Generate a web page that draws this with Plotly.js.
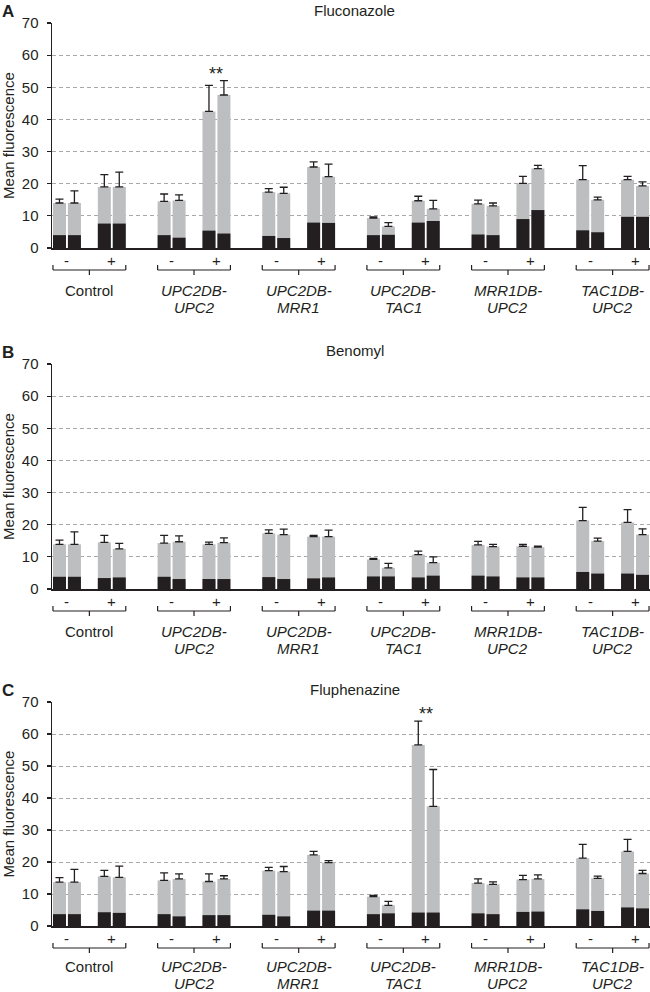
<!DOCTYPE html>
<html>
<head>
<meta charset="utf-8">
<script src="https://cdn.plot.ly/plotly-3.0.1.min.js"></script>
<style>html,body{margin:0;padding:0;background:#fff;}#chart{width:650px;height:992px;}</style>
</head>
<body>
<div id="chart"></div>
<script>
// ---------- DATA ----------
const groupLine1 = ['Control', '<i>UPC2DB-</i>', '<i>UPC2DB-</i>', '<i>UPC2DB-</i>', '<i>MRR1DB-</i>', '<i>TAC1DB-</i>'];
const groupLine2 = ['', '<i>UPC2</i>', '<i>MRR1</i>', '<i>TAC1</i>', '<i>UPC2</i>', '<i>UPC2</i>'];
const condLabels = ['-', '+'];
const panelTitles = ['Fluconazole', 'Benomyl', 'Fluphenazine'];
const panelLetters = ['A', 'B', 'C'];

// order per group: [-, -, +, +]
const totalA = [14.0,14.0,19.0,19.0, 14.5,14.8,42.5,47.6, 17.4,17.0,25.2,22.2, 9.3,6.7,14.7,12.2, 13.75,13.1,20.1,24.7, 21.25,15.0,21.25,19.3];
const blackA = [4.0,4.0,7.6,7.6, 4.0,3.2,5.4,4.5, 3.75,3.1,7.9,7.8, 4.0,4.1,7.9,8.4, 4.2,4.0,9.0,11.8, 5.5,4.9,9.7,9.7];
const errA   = [1.2,3.8,3.8,4.6, 2.3,1.7,8.1,4.5, 1.1,1.9,1.6,3.9, 0.4,1.2,1.4,2.6, 1.15,0.9,2.2,1.0, 4.35,0.8,1.05,1.3];

const totalB = [13.9,13.9,14.5,12.5, 14.3,14.7,13.9,14.4, 17.3,16.9,16.3,16.3, 9.2,6.6,10.7,8.2, 13.7,13.2,13.3,13.0, 21.3,14.9,20.7,16.9];
const blackB = [3.8,3.8,3.4,3.6, 3.8,3.1,3.1,3.1, 3.7,3.1,3.3,3.6, 3.9,3.9,3.6,4.15, 4.15,3.9,3.6,3.6, 5.3,4.8,4.8,4.4];
const errB   = [1.3,3.9,2.2,1.7, 2.4,1.8,0.7,1.5, 1.1,1.7,0.4,2.0, 0.3,1.4,1.1,1.8, 1.1,0.7,0.6,0.3, 4.1,0.9,4.0,1.8];

const totalC = [13.7,13.7,15.5,15.2, 14.25,14.7,13.9,14.7, 17.3,17.0,22.2,19.8, 9.15,6.45,56.6,37.4, 13.4,13.0,14.5,14.7, 21.2,14.9,23.3,16.4];
const blackC = [3.7,3.7,4.3,4.1, 3.7,3.0,3.4,3.4, 3.5,3.0,4.8,4.8, 3.7,3.95,4.2,4.2, 3.95,3.7,4.4,4.5, 5.2,4.7,5.8,5.5];
const errC   = [1.4,4.0,1.9,3.5, 2.35,1.6,2.4,1.0, 1.0,1.6,1.1,0.6, 0.45,1.25,7.4,11.5, 1.3,0.8,1.3,1.3, 4.3,0.7,3.8,1.0];

// significance: [panel index, group index, condition index, label]
const sigMarks = [[0, 1, 1, '**'], [2, 3, 1, '**']];

const yTicks = [0,10,20,30,40,50,60,70];

// ---------- LAYOUT / DRAW ----------
const totals = [totalA, totalB, totalC];
const blacks = [blackA, blackB, blackC];
const errs = [errA, errB, errC];

const GRAY = '#bdbec0', BLACK = '#231f20', TXT = '#231f20';
const FONT = 'Liberation Sans, Arial, sans-serif';
const FS = 15;
const H = 992;
const domains = [[248, 23], [589, 364], [926, 702]]; // px bottom, top
const line1Shift = [-42, -42, -40];
const line2Shift = [-59, -59, -57];

// bar positions: group*7 + cond*3 + replicate
const xpos = [];
for (let g = 0; g < groupLine1.length; g++)
  for (let c = 0; c < 2; c++)
    for (let r = 0; r < 2; r++) xpos.push(g * 7 + c * 3 + r);

const BW = 0.87;
const traces = [];
const layout = {
  width: 650, height: H,
  margin: {l: 0, r: 0, t: 0, b: 0},
  paper_bgcolor: '#fff', plot_bgcolor: '#fff',
  barmode: 'overlay', showlegend: false,
  font: {family: FONT, color: TXT, size: FS},
  shapes: [], annotations: []
};

for (let p = 0; p < 3; p++) {
  const sfx = p === 0 ? '' : String(p + 1);
  const xa = 'x' + sfx, ya = 'y' + sfx;
  const dom = [1 - domains[p][0] / H, 1 - domains[p][1] / H];
  layout['xaxis' + sfx] = {
    domain: [52 / 650, 1], range: [-0.5, 39.5], anchor: ya,
    showline: true, linecolor: BLACK, linewidth: 1.5,
    showgrid: false, zeroline: false, ticks: '', showticklabels: false, fixedrange: true
  };
  layout['yaxis' + sfx] = {
    domain: dom, range: [0, 70], anchor: xa,
    tickvals: yTicks, ticktext: yTicks.map(String),
    showline: true, linecolor: BLACK, linewidth: 1.5,
    ticks: 'outside', ticklen: 4, tickcolor: BLACK, tickwidth: 1.2,
    tickfont: {size: FS, color: TXT}, ticklabelstandoff: 5,
    showgrid: true, gridcolor: '#a8a8a8', gridwidth: 1, griddash: '4px,3px',
    zeroline: false, fixedrange: true,
    title: {text: 'Mean fluorescence', font: {size: FS, color: TXT}, standoff: 3}
  };

  traces.push({
    type: 'bar', x: xpos, y: totals[p], width: BW, xaxis: xa, yaxis: ya,
    marker: {color: GRAY, line: {width: 0}},
    error_y: {type: 'data', array: errs[p], arrayminus: errs[p].map(() => 0), symmetric: false,
              color: BLACK, thickness: 1.3, width: 4},
    hoverinfo: 'none'
  });
  traces.push({
    type: 'bar', x: xpos, y: blacks[p], width: BW, xaxis: xa, yaxis: ya,
    marker: {color: BLACK, line: {width: 0}}, hoverinfo: 'none'
  });

  // panel title & letter
  layout.annotations.push({xref: 'paper', yref: 'paper', x: 355 / 650, y: 1 - (domains[p][1] - 13) / H,
    text: panelTitles[p], showarrow: false, xanchor: 'center', yanchor: 'middle', font: {size: FS}});
  layout.annotations.push({xref: 'paper', yref: 'paper', x: 0, y: 1 - (domains[p][1] - 23) / H,
    text: '<b>' + panelLetters[p] + '</b>', showarrow: false, xanchor: 'left', yanchor: 'top', font: {size: 17}});

  const dref = ya + ' domain';
  const ln = {color: BLACK, width: 1.2};
  for (let g = 0; g < groupLine1.length; g++) {
    const x0 = g * 7 - BW / 2, x1 = g * 7 + 4 + BW / 2, xc = g * 7 + 2;
    const base = {type: 'line', xref: xa, yref: dref, ysizemode: 'pixel', yanchor: 0, line: ln};
    layout.shapes.push(Object.assign({}, base, {x0: x0, x1: x1, y0: -22, y1: -22}));
    layout.shapes.push(Object.assign({}, base, {x0: x0, x1: x0, y0: -22, y1: -17}));
    layout.shapes.push(Object.assign({}, base, {x0: x1, x1: x1, y0: -22, y1: -17}));
    layout.shapes.push(Object.assign({}, base, {x0: xc, x1: xc, y0: -22, y1: -27}));
    for (let c = 0; c < 2; c++) {
      layout.annotations.push({xref: xa, yref: dref, x: g * 7 + c * 3 + 0.5, y: 0, yshift: -12,
        text: condLabels[c], showarrow: false, xanchor: 'center', yanchor: 'middle', font: {size: FS}});
    }
    layout.annotations.push({xref: xa, yref: dref, x: xc, y: 0, yshift: line1Shift[p],
      text: groupLine1[g], showarrow: false, xanchor: 'center', yanchor: 'middle', font: {size: FS}});
    if (groupLine2[g]) layout.annotations.push({xref: xa, yref: dref, x: xc, y: 0, yshift: line2Shift[p],
      text: groupLine2[g], showarrow: false, xanchor: 'center', yanchor: 'middle', font: {size: FS}});
  }
}

sigMarks.forEach(([p, g, c, lab]) => {
  const sfx = p === 0 ? '' : String(p + 1);
  const i0 = g * 4 + c * 2;
  const top = Math.max(totals[p][i0] + errs[p][i0], totals[p][i0 + 1] + errs[p][i0 + 1]);
  layout.annotations.push({xref: 'x' + sfx, yref: 'y' + sfx, x: g * 7 + c * 3 + 0.5, y: top, yshift: 7,
    text: lab, showarrow: false, xanchor: 'center', yanchor: 'middle', font: {size: 18}});
});

Plotly.newPlot('chart', traces, layout, {displayModeBar: false, staticPlot: true});
</script>
</body>
</html>
